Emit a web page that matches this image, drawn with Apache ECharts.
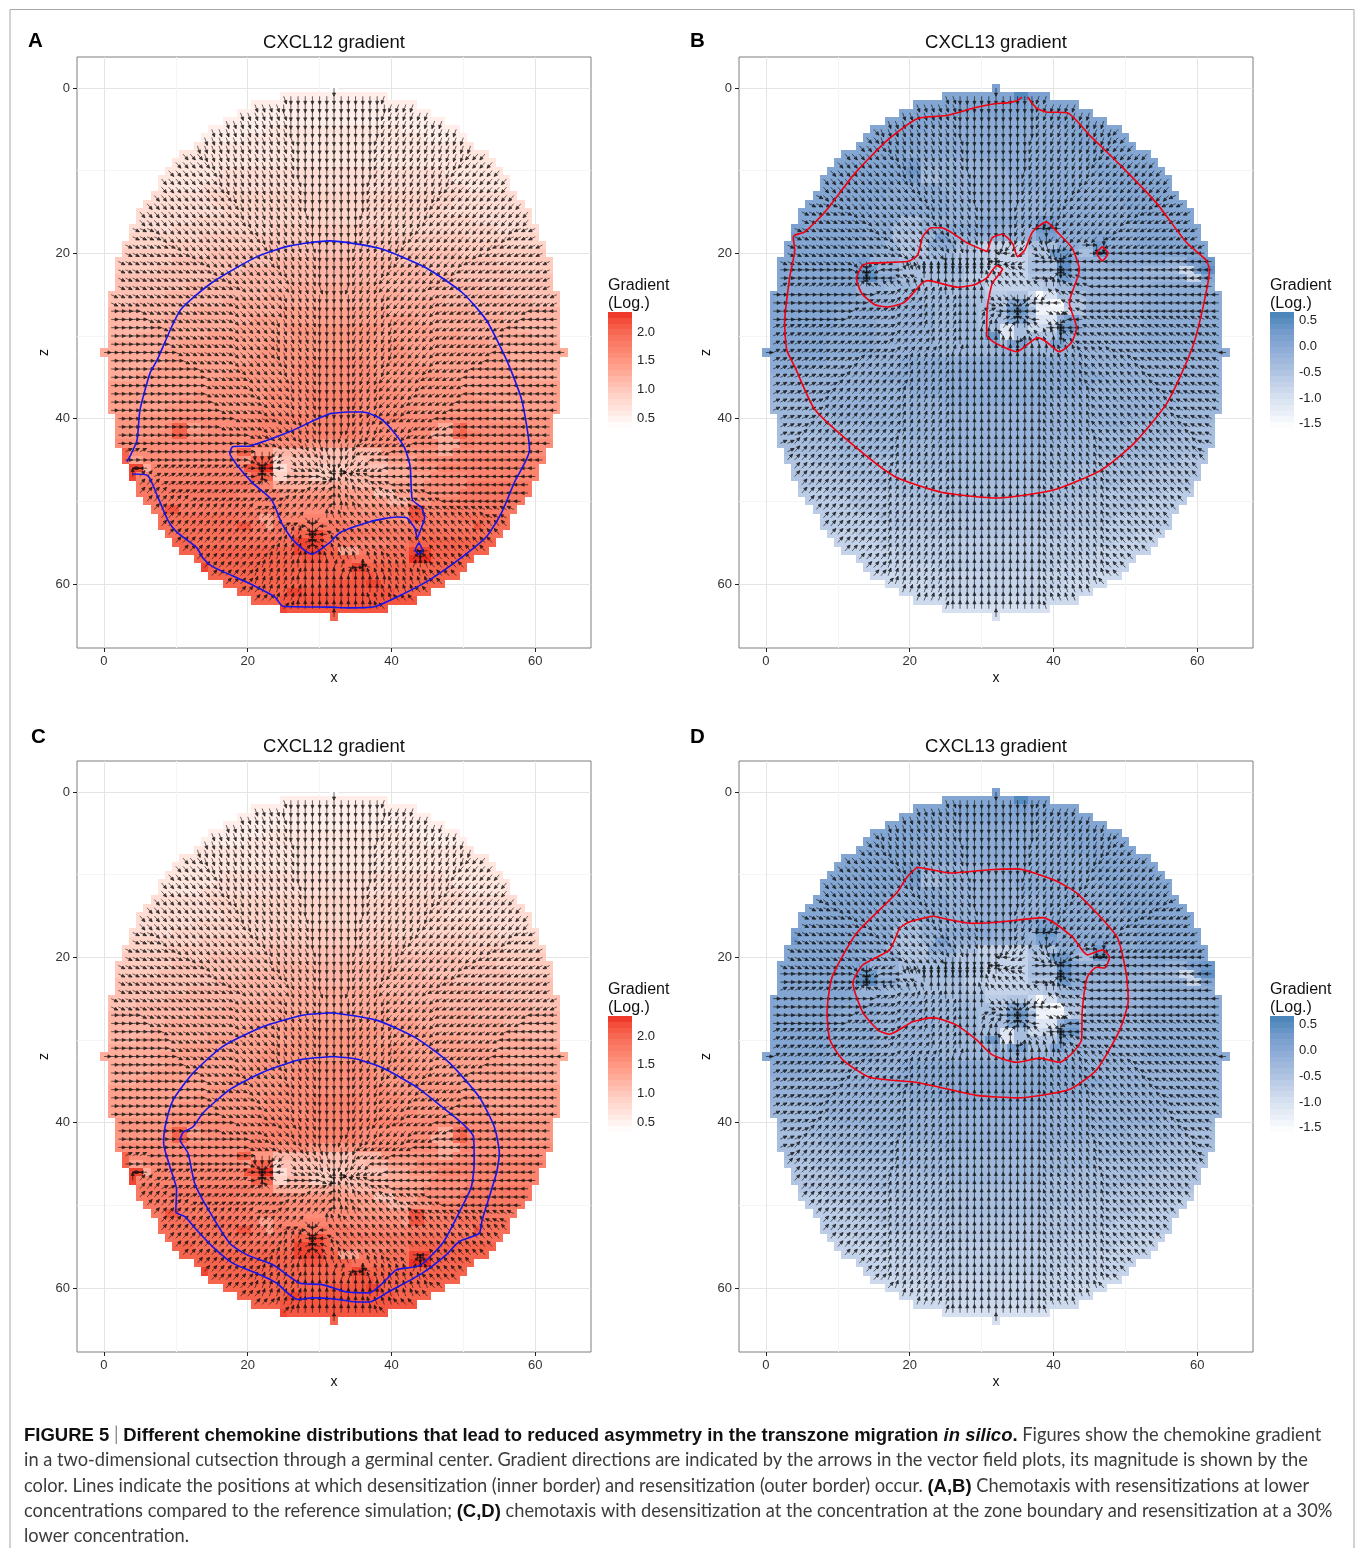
<!DOCTYPE html>
<html><head><meta charset="utf-8">
<style>html,body{margin:0;padding:0;background:#fff}#c{width:1355px;height:1548px}</style>
<script src="https://cdn.jsdelivr.net/npm/echarts@6/dist/echarts.min.js"></script>
</head><body><div id="c"></div>
<script>
// Half width of the disc per row z = 0..64 (cells run from x=32-h to x=32+h)
const rowHalfWidths=[0,7,11,13,15,17,18,19,21,22,23,24,24,25,26,27,27,28,28,29,29,30,30,30,30,31,31,31,31,31,31,31,32,31,31,31,31,31,31,31,30,30,30,30,29,29,28,28,27,27,26,25,24,24,23,22,21,19,18,17,15,13,11,7,0];
// Colour levels a..t per row, run-length coded (white=a, full colour=t)
const cxcl12Levels=[
"a1","c15","c23","c27","c31","c8d19c8","c6d25c6","d39","d43","d45","d8e31d8","d8e33d8","d6e37d6","e8f35e8","e10f33e10","e12f31e12","e8f39e8","e6f14g17f14e6","f10g37f10","f6g14h19g14f6","g12h35g12","g8h14i17h14g8","g6h12i25h12g6","h14i33h14","h10i14j13i14h10","h8i14j19i14h8","h4i12j31i12h4","i12j12k15j12i12","i8j12k23j12i8","i6j12k7l13k7j12i6","i4j10k12l11k12j10i4","j10k12l19k12j10","j8k14l21k14j8","j8k12l7m9l7k12j8","j6k12l8m11l8k12j6","j4k12l10m11l10k12j4","k14l10m15l10k14","k12l10m6n7m6l10k12","k10l12m6n7m6l12k10","k8l12m8n7m8l12k8",
"l8m12n20m12l9","l7m1q2k2m8n14m11j2o1q1m8l4","l6m2q2l3m6n15m10j3p1q1n2m6l4","m18n3m6l9m9j3n2m11","q1m15q2l3i7h4i4l8j2m13","q1k2m14l1q3f1h4h4h4i3k4m6n12","s2j1n13r2t2e2h4g4h3h3j3l4n5n9","s1n16q3f2i3g4h3i4j3k3m5n10","o16n3j10i4j3k4m6o9","o14n6l8k5h3k3m6o10","o14n6m6l4k4i3l3n4o9","o2r2o10n5m10l5l2r2n3o10","p11o3k2n10m8k1r2o5p7","p11r2o2k1o11n8o9r1p4","p12o6q2s2q1o11p13","q3p14s4q1o3n5o3q3q9","q16s4q2k3o3p4s3q8","q15r3q4p3p5t3q6","s1q13q7s2q6q3q5","q20r3q12","q15r5s2q9","q7s2r13q5","q4r19","s1r14","q1"];
const cxcl13Levels=[
"p1","o10s2p3","o14p2o7","o27","o8n15o8","o8n19o8","o8n21o8","o9n21o9","o9n25o9","o10p2m11n12o10","o11q2l3m9n12o10","o12p2k3m10n12o10","o10n7m11n12o9","o10n9m13n10o9","o10n10m13n11o9","o10n11m14n11o9","o9n5k3m8n8p3n10o9","p2o8n4k4m3n7m6q3n11o9","q1o9n4j4l2p2m6m6p3n5o3n3o9","o10n4l2j4n4k3h7k4n3m2q2n4o10","o10n3m3j4l4j3i2h5j3q3m1k2q2n6o8","o11p2m4k5l3j4h6k4r2o1m4n8m3p2q2","o11q3m3k6l3j3h6k4r2n2m8l5g2p1r2","o11r3n3k6k3i3h6j4q2n2m9m5h2o2","o11m4l4k7j3h6i2j2l2m3m8n9",
"o12m5l8k5i3j3g1a1f2k4m8n11","o10n5m6l7k3j2o3i1d2b2j3m8n11","o9n6m8l6k4q3k1c4h1j2m8n11","o9n6m8l6k4o3j1e3m1p2m1m8n11","o9n6m8l6k3e2k2g2h2q3n1m8n11","o8n7m8l7q2e2k3j3o2m2m8n11","o8n7m8l8n1k1p3k3p2m3m8n11","o9n7m9l8m4l3m13n12",
"n8m10n25m10m10","n6m12n27m18","m16n31m16","m18n27m18","m20n23m20","l6m18n15m18l6","l8m47l8","l8m45l8","k4l8m37l8k4","k6l12m25l12k6","k8l14m17l14k8","k8l43k8","j4k12l27k12j4","j6k12l21k12j6","j8k14l13k14j8","j10k35j10","i4j10k27j10i4","i6j10k21j10i6","i6j12k15j12i6","i8j33i8","i10j29i10","h4i10j19i10h4","h6i33h6","h8i27h8","h8i23h8","h10i17h10","g4h27g4","g6h19g6","g6h15g6","g23","f15","f1"];
// Arrow directions per row, run-length coded: a=N b=NNE c=NE d=ENE e=E f=ESE g=SE h=SSE i=S j=SSW k=SW l=WSW m=W n=WNW o=NW p=NNW
const directionDegrees=[0,22.5,45,67.5,90,112.5,135,157.5,180,202.5,225,247.5,270,292.5,315,337.5];
const cxcl12Dirs=[
"i1","h1i13j1","h4i15j4","h7i13j7","h9i13j9","h11i13j11","h13i11j13","h14i11j14","g3h13i11j13k3","g5h12i11j12k5","g7h11i11j11k7","g8h12i9j12k8","g9h11i9j11k9","g11h10i9j10k11","g13h9i9j9k13","g14h10i7j10k14","g15h9i7j9k15","f3g14h8i7j8k14l3","f4g14h7i7j7k14l4","f7g13h7i5j7k13l7","f9g11h7i5j7k11l9","f12g10h6i5j6k10l12","f13g10h5i5j5k10l13","f15g9h4i5j4k9l15","f17g7h5i3j5k7l17","f17g7h5i5j5k7l17","f17g7h5i5j5k7l17","e4f13g7h5i5j5k7l13m4","e5f12g6h6i5j6k6l12m5","e7f10g6h6i5j6k6l10m7","e8f9g6h6i5j6k6l9m8","e8f9g6h6i5j6k6l9m8","e10f8g6h6i5j6k6l8m10","e10f7g7h5i5j5k7l7m10","e12f6g6h5i5j5k6l6m12","e13f6g6h4i5j4k6l6m13","e13f6g6h4i5j4k6l6m13","e13f7g5h4i5j4k5l7m13","e14f7g4h4i5j4k4l7m14","e15f6g4h4i5j4k4l6m15","e16f6g3h3i5j3k3l6m16",
"e14f6g4h4i4j5k5l5m14","e18f3g4h3i3j4k6l4m16","e18f4g4h3i3j2l8m19","d3e15i3k2g4h2i2j2l5m21","e17f1g1i1k1l2g4h2i1j2k3m24","e1m2d13e2i1m3f4g2i2k2l4m21","a1c2d13e1d1a1n2e5f2a2o1n3m23","c3d14a1o1d3d4c1a1p2o3n3m19","c4d14d5c4a1p3o4n6m14","c6d13c7a1p2o7n6m11","c14d3c8a2p2o8n14","c20g1i1k1a1p2o20n3","c17d2e1g1i1k1m1o25","c16b3e1i1m1m1n1o23","c15b3d1a1n1n1p1o22","c13b4c1a1o2p2o9e1i1m1o8","c10b5a3p5i1p3o3c1a1o7","c8b5a3a2b2e2a1n1p5b1a1p1o5","c6b7a5b2a2p8o5","c4b6a13p6o2","c3b6a11p5o2","c3b4a9p4o3","c1b1a11p1o1","a1"];
const cxcl13Dirs=[
"i1","h2i11j2","h6i11j6","h8i11j8","h10i11j10","g1h11i11j11k1","g2h12i9j12k2","g4h11i9j11k4","g7h10i9j10k7","g9h9i9j9k9","g10h10i7j10k10","g12h9i7j9k12","g13h8i7j8k13","f1g14h7i7j7k14l1","f4g13h7i5j7k13l4","f7g11h7i5j7k11l7","f9g10h6i5j6k10l9","f11g10h5i5j2e2i1m2k8l11","f13g9h4i5j3h1i1k1k6i1l13","f14g8h3i5j1k3g1g1h1i1j1k1k1e2i2l14","f16g6i8m2l2f1g2h1i1k1l1m1e1e1m1m15","f10g2i1k1l3h3i3i7m2l3e4i1m21","e10f2i1l2m3p2a4a5a2o2n2e4i1m21","e12a1m4n3a9p2o4e3c1a1o1n2m18","d11c1a1n2o3p3a7p2o5o2a2p1o1n3m17",
"e14d3c3b4a6g4i2k3o2n3m19","e13d4c4b5a4f4i1l2m4n3m19","e11d6c4b5a3d2e3i1m3f3l1n2m19","e10d7c4b5a3b1c2d2a1n2m1g2i1l1m2n19","d17c4b5a3b2a1c2a2o2e2i1m3n19","d17c5b4a5a1o1a1i1k1o2p2a1o2n20","d16c6b4a8i1a1p3a2o2n20","e1d17c6b4a13p3o5n15m1",
"d12c7b6a13p6o7n12","d11c8b6a13p6o8n11","d10c9b6a13p6o9n10","d9c10b6a13p6o10n9","d8c10b7a13p7o10n8","d7c11b7a13p7o11n7","d7c11b7a13p7o11n7","d5c12b7a13p7o12n5","d4c13b7a13p7o13n4","d3c14b7a13p7o14n3","d2c14b8a13p8o14n2","d1c14b8a13p8o14n1","c15b8a13p8o15","c14b8a13p8o14","c13b9a13p9o13","c12b9a13p9o12","c12b9a13p9o12","c11b9a13p9o11","c10b9a13p9o10","c9b9a13p9o9","c9b9a13p9o9","c8b9a13p9o8","c7b9a13p9o7","c6b9a13p9o6","c4b9a13p9o4","c3b9a13p9o3","c2b9a13p9o2","c1b8a13p8o1","b7a13p7","b5a13p5","b1a13p1","a1"];
// Contours, in data units
const contourAOuter=[[3.2,45.2],[3.6,44.6],[4.6,42.6],[5,39],[6.4,34.5],[7.4,32.9],[10.6,26.9],[15.1,23.5],[21.3,20.4],[25.8,19.1],[31.4,18.5],[38.3,19.4],[44.9,21.8],[49.9,24.8],[53.2,28.1],[56,32.9],[58.1,37.7],[59.2,43.8],[57.1,47.7],[55.3,51.4],[53.2,54.3],[49.9,56.7],[45.3,59.5],[40.7,61.6],[37.4,62.8],[34.2,62.9],[31.4,62.8],[24.9,62.7],[23.8,61.6],[19.9,59.8],[15.1,57.9],[13.8,56.9],[12.9,55.6],[10.1,53.7],[8.9,52.3],[7.5,49.5],[6.1,46.9],[4,46.7]];
const contourAInner=[[31.4,39.4],[30,39.9],[25.8,41.6],[20.3,43.3],[17.9,43.4],[17.5,44.2],[18.5,45.6],[20.7,47.8],[23.3,49.8],[24.7,52.6],[26.3,54.7],[28.9,56.4],[31.4,55],[32.8,53.8],[36.9,52.5],[40.8,51.9],[42.1,52],[43.2,53.2],[43.6,54.4],[44.2,53.1],[44.6,52],[44.2,50.8],[42.9,49.8],[42.6,45.8],[41.8,43.5],[40.1,41.4],[38.3,39.9],[36,39.2],[33.8,39.2],[31.4,39.4]];
const contourASmall=[[43.8,55],[44.3,55.9],[43.8,56.4],[43.3,55.9],[43.8,55]];
const contourBOuter=[[36.4,1.1],[37.6,2.4],[39,2.9],[41.9,3],[45,5.7],[49.6,9.6],[54.3,13.9],[58.5,18.7],[61.2,20.8],[61.7,22],[60.7,26.9],[59.2,31.7],[55.8,38.1],[51.3,42.9],[46.7,46.2],[40.1,48.6],[32.2,49.6],[24.4,48.9],[17.9,47],[12.4,43.4],[6.8,38.9],[4,33.7],[2.9,31.7],[2.6,28.4],[3.3,22.9],[4,19.6],[3.8,18.1],[4,17.8],[5.4,17.4],[8.2,15],[12.4,10.3],[16.9,6.3],[21.1,3.7],[25.3,3.3],[29,2.4],[31.8,1.9],[33.5,1.8],[35,1.5],[35.6,1.1]];
const contourBInner=[[30.8,19.8],[28.1,18.8],[24.4,16.9],[23,16.9],[21.8,18],[21.1,20.2],[19.7,21],[14.2,21.2],[13.3,21.6],[12.6,23.1],[13.3,24.8],[15.1,26.2],[16.9,26.5],[19.3,25.9],[21.7,23.6],[22.5,23.3],[26.7,24.1],[29,23.8],[30.7,23],[32.1,21.5],[32.9,21.9],[31.5,23.6],[30.8,26.5],[30.7,29.9],[31.8,30.8],[34.9,31.9],[36.7,30.8],[37.8,30.2],[39,30.7],[40.8,31.9],[42.5,30.8],[43.2,29],[42.2,26],[43.6,22],[42.6,19.4],[40.6,17.5],[39,16.2],[37.1,17.4],[36,19.6],[35,20.4],[34.3,18.8],[32.9,17.7],[31.5,18.1],[30.8,19.8]];
const contourBSmall=[[46.8,19.2],[47.6,20],[46.8,20.9],[46,20],[46.8,19.2]];
const contourCOuter=[[31.8,26.7],[27.6,27],[22.1,28.4],[16.5,30.8],[12.4,34],[9.6,37.3],[8.5,40.5],[8.3,42.5],[9.2,45.4],[10.1,48.1],[10,50.8],[11.3,51.4],[12.9,53],[15.1,55],[17.9,57],[21.7,58.4],[24,59.4],[25.8,60.8],[26.9,61.4],[29,61.2],[31.8,61.3],[35.1,61.7],[36.9,61.7],[39.7,60.4],[44.3,58.2],[47.6,56],[49.4,54.4],[52.2,53.4],[52.6,51.8],[54.6,46.1],[55,43.7],[54.3,40.5],[52.2,36.9],[48.1,32.8],[43.5,29.8],[37.9,27.6],[31.8,26.7]];
const contourCInner=[[31.8,32],[27.2,32.4],[22.1,33.9],[17.5,36],[13.8,38.8],[12.4,40.5],[11,41.2],[10.6,42.1],[11.7,43.7],[12.6,47.3],[14.3,50.2],[17.5,54.6],[19.9,56],[23.5,57.2],[27.2,59.4],[30.4,59.6],[33.8,60.5],[36.9,60.6],[38.8,59.4],[40.7,57.8],[43.9,57.3],[47.1,54.6],[49.4,50.9],[51.1,47.8],[51.5,44.9],[51.4,41.7],[50.1,40.3],[47.6,38.5],[43.5,35.7],[38.8,33.4],[35.1,32.3],[31.8,32]];
const contourDOuter=[[21,9.1],[22.4,9.3],[25.6,9.8],[31.1,9.4],[34.9,9.3],[39.9,10.6],[43.2,12.2],[48.8,17.5],[50.1,21.9],[50.4,25.2],[49.2,28.8],[46,33.6],[42.2,36],[34.9,37],[29.3,36.7],[21.4,35.2],[14.4,34.5],[10.7,32.4],[8.9,30],[8.5,26.7],[9.2,22.4],[12.6,17.1],[18.2,12.2],[19.6,10.3],[21,9.1]];
const contourDInner=[[23.2,15],[28.8,15.9],[32.9,15.7],[38.5,15.2],[42.6,17.5],[44.7,19.7],[46.8,19.1],[47.8,20],[47.1,21.3],[46,21.2],[44.7,22.4],[44,26.4],[43.9,30],[42.6,31.6],[40.8,32.7],[38.1,32.2],[34.9,32.7],[31.5,31.8],[29.3,30],[26.5,28.2],[23.2,27.3],[20.4,27.8],[17.2,29.3],[15.6,28.8],[13.5,26.7],[12.1,23.1],[13.5,20.9],[17.2,19.1],[18.6,16.5],[20,15.7],[23.2,15]];
const axisTickValues=[0,20,40,60];
const axisMinorValues=[10,30,50];
const legendTicks12=[0.5,1,1.5,2];
const legendTicks13=[-1.5,-1,-0.5,0,0.5];
const range12=[0.33,2.35];
const range13=[-1.58,0.67];
const redStops=[[0,'#ffffff'],[0.3,'#ffcfc3'],[0.56,'#ff9a85'],[0.81,'#f86c56'],[0.92,'#f3503c'],[1,'#ee3124']];
const blueStops=[[0,'#ffffff'],[0.3,'#d0dcee'],[0.55,'#a3bbdd'],[0.8,'#7a9fce'],[1,'#4682b8']];
const captionLines=[
"{b|FIGURE 5}{s| | }{b|Different chemokine distributions that lead to reduced asymmetry in the transzone migration }{bi|in silico}{b|.}{n| Figures show the chemokine gradient}",
"{n|in a two-dimensional cutsection through a germinal center. Gradient directions are indicated by the arrows in the vector field plots, its magnitude is shown by the}",
"{n|color. Lines indicate the positions at which desensitization (inner border) and resensitization (outer border) occur. }{b|(A,B)}{n| Chemotaxis with resensitizations at lower}",
"{n|concentrations compared to the reference simulation; }{b|(C,D)}{n| chemotaxis with desensitization at the concentration at the zone boundary and resensitization at a 30%}",
"{n|lower concentration.}"];

const LETTERS='abcdefghijklmnopqrst';
function decode(s){const o=[];(s.match(/[a-z]\d*/g)||[]).forEach(t=>{const n=t.length>1?+t.slice(1):1;for(let i=0;i<n;i++)o.push(t[0]);});return o;}
function hex(c){return [1,3,5].map(i=>parseInt(c.substr(i,2),16));}
function colorAt(stops,f){f=Math.max(0,Math.min(1,f));for(let i=1;i<stops.length;i++){if(f<=stops[i][0]){const a=stops[i-1],b=stops[i],t=(f-a[0])/(b[0]-a[0]),A=hex(a[1]),B=hex(b[1]);return 'rgb('+A.map((v,k)=>Math.round(v+(B[k]-v)*t)).join(',')+')';}}return stops[stops.length-1][1];}
function buildCells(levels,dirs,range){const out=[];rowHalfWidths.forEach((h,z)=>{const L=decode(levels[z]||'a1'),D=decode(dirs[z]||'a1'),w=2*h+1;for(let j=0;j<w;j++){const l=L[Math.min(j,L.length-1)],d=D[Math.min(j,D.length-1)];const v=range[0]+LETTERS.indexOf(l)/19*(range[1]-range[0]);out.push([32-h+j,z,v,directionDegrees[LETTERS.indexOf(d)]]);}});return out;}
const cells12=buildCells(cxcl12Levels,cxcl12Dirs,range12);
const cells13=buildCells(cxcl13Levels,cxcl13Dirs,range13);

const panels=[
 {name:'A',title:'CXCL12 gradient',left:77,top:57,cells:cells12,range:range12,stops:redStops,ticks:legendTicks12,color:'#1616e8',lines:[contourAOuter,contourAInner,contourASmall],lx:28,ly:31},
 {name:'B',title:'CXCL13 gradient',left:739,top:57,cells:cells13,range:range13,stops:blueStops,ticks:legendTicks13,color:'#f00010',lines:[contourBOuter,contourBInner,contourBSmall],lx:690,ly:31},
 {name:'C',title:'CXCL12 gradient',left:77,top:761,cells:cells12,range:range12,stops:redStops,ticks:legendTicks12,color:'#1616e8',lines:[contourCOuter,contourCInner],lx:31,ly:727},
 {name:'D',title:'CXCL13 gradient',left:739,top:761,cells:cells13,range:range13,stops:blueStops,ticks:legendTicks13,color:'#f00010',lines:[contourDOuter,contourDInner],lx:690,ly:727}];

const FONT='"Liberation Sans",Arial,sans-serif';
const grid=[],xAxis=[],yAxis=[],series=[],title=[],graphic=[];
const W=514,H=591,EXT=[-3.75,67.75];
function axisCommon(ticks,gi,extra){return Object.assign({type:'value',gridIndex:gi,min:EXT[0],max:EXT[1],axisLine:{show:false,onZero:false},axisTick:{show:true,length:4,lineStyle:{color:'#222',width:1},customValues:ticks},axisLabel:{show:true,color:'#333',fontSize:13,fontFamily:FONT,margin:7,customValues:ticks},splitLine:{show:true,lineStyle:{color:'#e4e4e4',width:1}}},extra||{});}
function minorAxis(gi){return {type:'value',gridIndex:gi,min:EXT[0],max:EXT[1],axisLine:{show:false,onZero:false},axisTick:{show:false,customValues:axisMinorValues},axisLabel:{show:false},splitLine:{show:true,lineStyle:{color:'#f5f5f5',width:1}}};}

panels.forEach(p=>{
 const gMain=grid.length;
 grid.push({left:p.left,top:p.top,width:W,height:H,show:true,borderColor:'#7f7f7f',borderWidth:1,backgroundColor:'transparent'});
 const xi=xAxis.length,yi=yAxis.length;
 xAxis.push(axisCommon(axisTickValues,gMain,{name:'x',nameLocation:'middle',nameGap:23,nameTextStyle:{fontSize:14,color:'#111',fontFamily:FONT}}));
 const yMain=axisCommon(axisTickValues,gMain,{inverse:true,name:'z',nameLocation:'middle',nameGap:25,nameTextStyle:{fontSize:14,color:'#111',fontFamily:FONT}});
 yMain.axisLabel.padding=[2,0,0,0];
 yAxis.push(yMain);
 xAxis.push(minorAxis(gMain)); yAxis.push(Object.assign(minorAxis(gMain),{inverse:true}));
 series.push({type:'custom',xAxisIndex:xi,yAxisIndex:yi,animation:false,silent:true,z:2,clip:false,progressive:0,progressiveThreshold:1e7,data:p.cells,
  renderItem:(params,api)=>{const x=api.value(0),z=api.value(1),a=api.coord([x-0.5,z-0.5]),b=api.coord([x+0.5,z+0.5]);const x0=Math.round(a[0]),y0=Math.round(a[1]),x1=Math.round(b[0]),y1=Math.round(b[1]);
   return {type:'rect',shape:{x:x0,y:y0,width:x1-x0,height:y1-y0},style:{fill:colorAt(p.stops,(api.value(2)-p.range[0])/(p.range[1]-p.range[0]))}};}});
 series.push({type:'custom',xAxisIndex:xi,yAxisIndex:yi,animation:false,silent:true,z:3,clip:false,progressive:0,progressiveThreshold:1e7,data:p.cells,
  renderItem:(params,api)=>{const x=api.value(0),z=api.value(1),r=api.value(3)*Math.PI/180,dx=Math.sin(r),dz=-Math.cos(r);const s=api.coord([x,z]),t=api.coord([x+dx,z+dz]);const ang=Math.atan2(t[1]-s[1],t[0]-s[0]),hl=3.6,sp=0.45;
   const w1=[t[0]-hl*Math.cos(ang-sp),t[1]-hl*Math.sin(ang-sp)],w2=[t[0]-hl*Math.cos(ang+sp),t[1]-hl*Math.sin(ang+sp)];
   return {type:'polyline',shape:{points:[s,t,w1,w2,t]},style:{stroke:'rgba(15,15,15,0.78)',lineWidth:0.8,fill:'rgba(15,15,15,0.6)'}};}});
 p.lines.forEach(l=>{series.push({type:'line',xAxisIndex:xi,yAxisIndex:yi,data:l,showSymbol:false,smooth:0.2,animation:false,silent:true,z:5,lineStyle:{color:p.color,width:1.6}});});
 title.push({text:p.title,left:p.left+W/2-5,top:p.top-29,textAlign:'center',textStyle:{fontSize:18.5,fontWeight:'normal',color:'#111',fontFamily:FONT}});
 graphic.push({type:'text',left:p.lx,top:p.ly,style:{text:p.name,font:'bold 20.5px '+FONT,fill:'#000'}});
 graphic.push({type:'text',left:p.left+531,top:p.top+220,style:{text:'Gradient\n(Log.)',font:'16px '+FONT,fill:'#111',lineHeight:17.5}});
 // legend colour bar
 const gLeg=grid.length;
 grid.push({left:p.left+531,top:p.top+255,width:24,height:116});
 const lx=xAxis.length,ly=yAxis.length;
 xAxis.push({type:'value',gridIndex:gLeg,min:0,max:1,show:false});
 const ty=(pos,labels)=>({type:'value',gridIndex:gLeg,position:pos,min:p.range[0],max:p.range[1],axisLine:{show:false,onZero:false},splitLine:{show:false},axisTick:{show:true,inside:true,length:5,lineStyle:{color:'#fff',width:1},customValues:p.ticks},axisLabel:{show:labels,color:'#222',fontSize:13,fontFamily:FONT,margin:5,padding:[3,0,0,0],customValues:p.ticks,formatter:v=>v.toFixed(1)}});
 yAxis.push(ty('right',true)); yAxis.push(ty('left',false));
 const bins=LETTERS.split('').map((c,i)=>[i,0.5]);
 series.push({type:'custom',xAxisIndex:lx,yAxisIndex:ly,animation:false,silent:true,z:2,data:bins,
  renderItem:(params,api)=>{const i=api.value(0),vA=p.range[0]+i/20*(p.range[1]-p.range[0]),vB=p.range[0]+(i+1)/20*(p.range[1]-p.range[0]);const a=api.coord([0,vB]),b=api.coord([1,vA]);
   return {type:'rect',shape:{x:a[0],y:Math.round(a[1]),width:b[0]-a[0],height:Math.round(b[1])-Math.round(a[1])},style:{fill:colorAt(p.stops,(i+0.5)/20)}};}});
});
graphic.push({type:'rect',shape:{x:10,y:9.5,width:1344,height:1600},style:{fill:null,stroke:'#a6a6a6',lineWidth:1},z:-1});
const capStyle={fontFamily:'Lato,"Liberation Sans",sans-serif',fontSize:18.25};
const capBold={fontFamily:'"Liberation Sans",sans-serif',fontSize:18.5};
const capY=[1426,1451,1477,1502,1527];
captionLines.forEach((t,i)=>{graphic.push({type:'text',left:24,top:capY[i],style:{text:t,rich:{
 n:Object.assign({fill:'#3c3c3c'},capStyle),
 b:Object.assign({fill:'#111',fontWeight:'bold'},capBold),
 bi:Object.assign({fill:'#111',fontWeight:'bold',fontStyle:'italic'},capBold),
 s:Object.assign({fill:'#888'},capStyle)}}});});

const chart=echarts.init(document.getElementById('c'),null,{renderer:'canvas',width:1355,height:1548});
chart.setOption({animation:false,backgroundColor:'#fff',grid,xAxis,yAxis,series,title,graphic});
</script></body></html>
